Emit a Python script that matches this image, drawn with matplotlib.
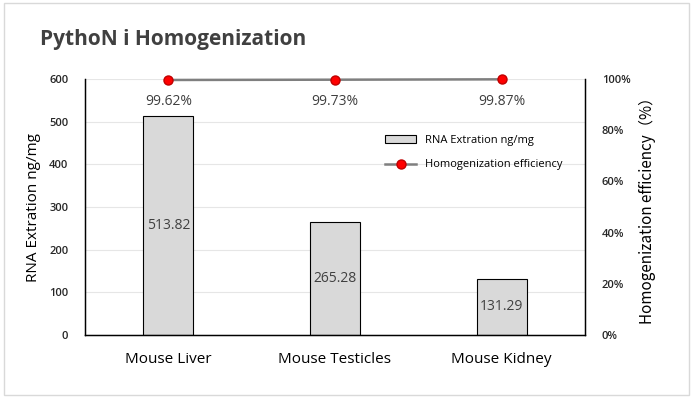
import matplotlib.pyplot as plt
from matplotlib.ticker import FuncFormatter
from matplotlib.patches import Rectangle

plt.rcParams['font.family'] = ['Open Sans', 'DejaVu Sans']

categories = ['Mouse Liver', 'Mouse Testicles', 'Mouse Kidney']
rna = [513.82, 265.28, 131.29]
efficiency = [99.62, 99.73, 99.87]

fig = plt.figure(figsize=(6.93, 3.98), dpi=100)
fig.patches.append(Rectangle((0.006, 0.008), 0.988, 0.984, transform=fig.transFigure,
                             fill=False, edgecolor='#d9d9d9', linewidth=1))
ax = fig.add_axes([85/693, 1 - 335/398, 500/693, 256/398])

x = range(len(categories))
bars = ax.bar(x, rna, width=0.3, color='#d9d9d9', edgecolor='black', linewidth=0.8,
              label='RNA Extration ng/mg', zorder=2)
for b, v in zip(bars, rna):
    ax.text(b.get_x() + b.get_width() / 2, v / 2, f'{v:.2f}', ha='center', va='center',
            fontsize=10, color='#404040', zorder=3)

ax.set_xlim(-0.5, 2.5)
ax.set_ylim(0, 600)
ax.set_yticks(range(0, 601, 100))
ax.grid(axis='y', color='#e6e6e6', linewidth=0.8, zorder=0)
ax.set_axisbelow(True)
ax.set_xticks(list(x))
ax.set_xticklabels(categories, fontsize=11)
ax.tick_params(axis='x', length=0, pad=12)
ax.tick_params(axis='y', length=0, labelsize=8, pad=12)
for t in ax.get_yticklabels():
    t.set_fontweight('semibold')
    t.set_color('#262626')
ax.spines['top'].set_visible(False)
for s in ['left', 'bottom', 'right']:
    ax.spines[s].set_color('black')
    ax.spines[s].set_linewidth(1)
ax.set_ylabel('RNA Extration ng/mg', fontsize=11, labelpad=6)

ax2 = ax.twinx()
ax2.plot(list(x), efficiency, color='#7f7f7f', linewidth=1.8, marker='o', markersize=6.5,
         markerfacecolor='red', markeredgecolor='#c00000', label='Homogenization efficiency',
         zorder=4, clip_on=False)
for xi, v in zip(x, efficiency):
    ax2.text(xi, v - 8.5, f'{v:.2f}%', ha='center', va='center', fontsize=10, color='#404040')
ax2.set_ylim(0, 100)
ax2.set_yticks(range(0, 101, 20))
ax2.yaxis.set_major_formatter(FuncFormatter(lambda v, p: f'{v:.0f}%'))
ax2.tick_params(axis='y', length=0, labelsize=8, pad=12)
for t in ax2.get_yticklabels():
    t.set_fontweight('semibold')
    t.set_color('#262626')
ax2.spines['top'].set_visible(False)
ax2.spines['right'].set_color('black')
ax2.set_ylabel('Homogenization efficiency（%）', fontsize=11, labelpad=6,
               family=['Noto Sans CJK SC', 'Open Sans'])

h1, l1 = ax.get_legend_handles_labels()
h2, l2 = ax2.get_legend_handles_labels()
ax.legend(h1 + h2, l1 + l2, loc='upper left', bbox_to_anchor=(0.58, 0.82), frameon=False,
          fontsize=8, handlelength=2.8, labelspacing=1.2)

fig.text(40/693, 1 - 40/398, 'PythoN i Homogenization', fontsize=15, fontweight='bold',
         color='#404040', va='center')

fig.savefig('out.png', dpi=100)
